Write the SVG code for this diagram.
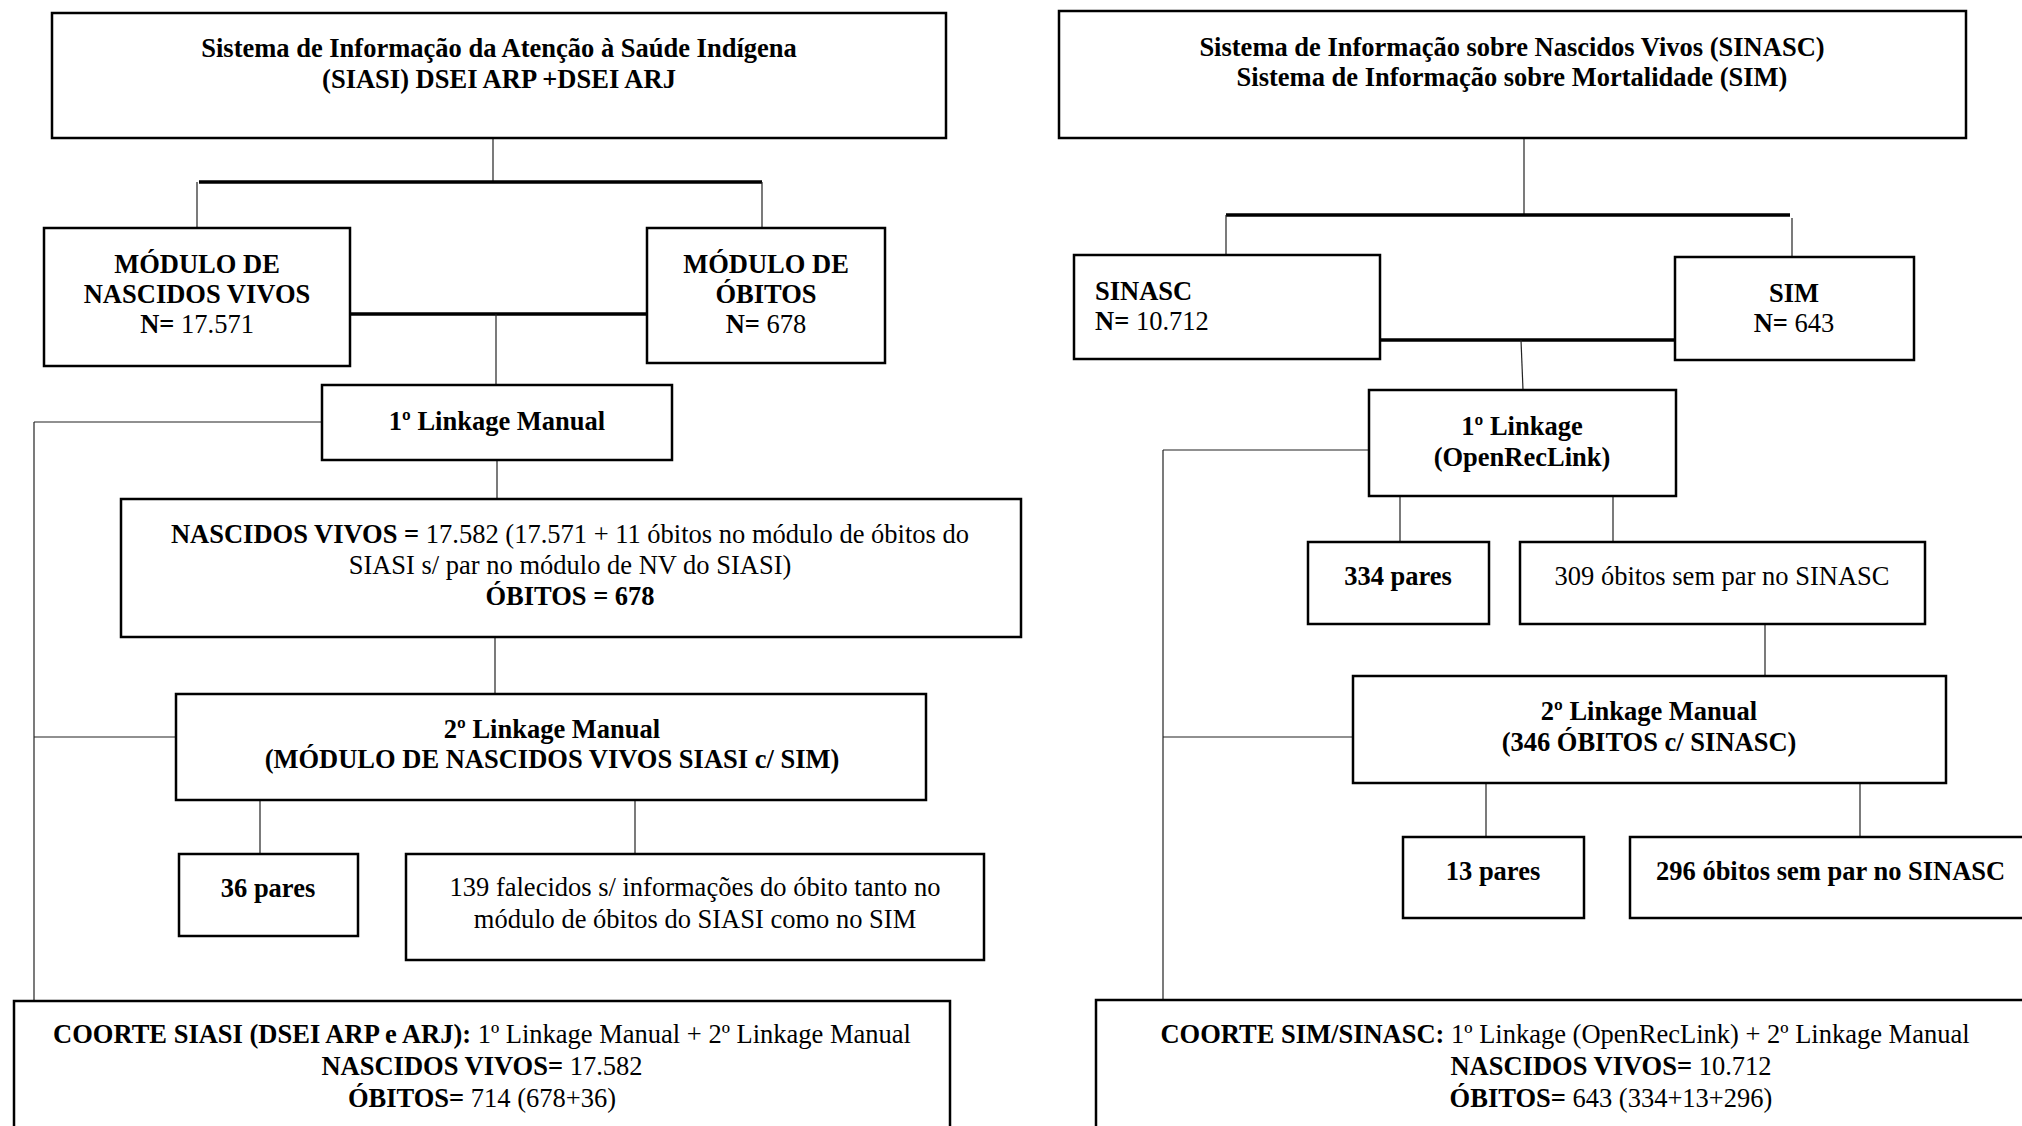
<svg xmlns="http://www.w3.org/2000/svg" width="2022" height="1126" viewBox="0 0 2022 1126">
<style>
.box{fill:#fff;stroke:#000;stroke-width:2.5}
.ln{stroke:#222;stroke-width:1.2;fill:none}
.thk{stroke:#000;stroke-width:3.5;fill:none}
text{font-family:"Liberation Serif","Times New Roman",serif;font-size:26.5px;fill:#000}
.c{text-anchor:middle}
.b{font-weight:bold}
</style>
<rect width="2022" height="1126" fill="#fff"/>
<g id="connectors">
<line class="ln" x1="493" y1="138" x2="493" y2="182"/>
<line class="thk" x1="199" y1="182" x2="762" y2="182"/>
<line class="ln" x1="197" y1="182" x2="197" y2="228"/>
<line class="ln" x1="762" y1="182" x2="762" y2="228"/>
<line class="thk" x1="350" y1="314" x2="647" y2="314"/>
<line class="ln" x1="496" y1="314" x2="496" y2="385"/>
<line class="ln" x1="34" y1="422" x2="322" y2="422"/>
<line class="ln" x1="34" y1="422" x2="34" y2="1001"/>
<line class="ln" x1="497" y1="460" x2="497" y2="499"/>
<line class="ln" x1="495" y1="637" x2="495" y2="694"/>
<line class="ln" x1="34" y1="737" x2="176" y2="737"/>
<line class="ln" x1="260" y1="800" x2="260" y2="854"/>
<line class="ln" x1="635" y1="800" x2="635" y2="854"/>
<line class="ln" x1="1524" y1="138" x2="1524" y2="215"/>
<line class="thk" x1="1226" y1="215" x2="1790" y2="215"/>
<line class="ln" x1="1226" y1="215" x2="1226" y2="255"/>
<line class="ln" x1="1792" y1="218" x2="1792" y2="257"/>
<line class="thk" x1="1380" y1="340" x2="1675" y2="340"/>
<line class="ln" x1="1521" y1="340" x2="1523" y2="390"/>
<line class="ln" x1="1163" y1="450" x2="1369" y2="450"/>
<line class="ln" x1="1163" y1="450" x2="1163" y2="1000"/>
<line class="ln" x1="1400" y1="496" x2="1400" y2="542"/>
<line class="ln" x1="1613" y1="496" x2="1613" y2="542"/>
<line class="ln" x1="1765" y1="624" x2="1765" y2="676"/>
<line class="ln" x1="1163" y1="737" x2="1353" y2="737"/>
<line class="ln" x1="1486" y1="783" x2="1486" y2="837"/>
<line class="ln" x1="1860" y1="783" x2="1860" y2="837"/>
</g>
<g id="siasi">
<rect class="box" x="52" y="13" width="894" height="125"/>
<text class="c b" x="499" y="57">Sistema de Informação da Atenção à Saúde Indígena</text>
<text class="c b" x="499" y="88">(SIASI) DSEI ARP +DSEI ARJ</text>
</g>
<g id="modulo-nv">
<rect class="box" x="44" y="228" width="306" height="138"/>
<text class="c b" x="197" y="273">MÓDULO DE</text>
<text class="c b" x="197" y="303">NASCIDOS VIVOS</text>
<text class="c" x="197" y="333"><tspan class="b">N=</tspan> 17.571</text>
</g>
<g id="modulo-obitos">
<rect class="box" x="647" y="228" width="238" height="135"/>
<text class="c b" x="766" y="273">MÓDULO DE</text>
<text class="c b" x="766" y="303">ÓBITOS</text>
<text class="c" x="766" y="333"><tspan class="b">N=</tspan> 678</text>
</g>
<g id="linkage1-manual">
<rect class="box" x="322" y="385" width="350" height="75"/>
<text class="c b" x="497" y="430">1º Linkage Manual</text>
</g>
<g id="nascidos">
<rect class="box" x="121" y="499" width="900" height="138"/>
<text class="c" x="570" y="543"><tspan class="b">NASCIDOS VIVOS =</tspan> 17.582 (17.571 + 11 óbitos no módulo de óbitos do</text>
<text class="c" x="570" y="574">SIASI s/ par no módulo de NV do SIASI)</text>
<text class="c b" x="570" y="605">ÓBITOS = 678</text>
</g>
<g id="linkage2-siasi">
<rect class="box" x="176" y="694" width="750" height="106"/>
<text class="c b" x="552" y="738">2º Linkage Manual</text>
<text class="c b" x="552" y="768">(MÓDULO DE NASCIDOS VIVOS SIASI c/ SIM)</text>
</g>
<g id="pares36">
<rect class="box" x="179" y="854" width="179" height="82"/>
<text class="c b" x="268" y="897">36 pares</text>
</g>
<g id="falecidos139">
<rect class="box" x="406" y="854" width="578" height="106"/>
<text class="c" x="695" y="896">139 falecidos s/ informações do óbito tanto no</text>
<text class="c" x="695" y="928">módulo de óbitos do SIASI como no SIM</text>
</g>
<g id="coorte-siasi">
<rect class="box" x="14" y="1001" width="936" height="140"/>
<text class="c" x="482" y="1043"><tspan class="b">COORTE SIASI (DSEI ARP e ARJ):</tspan> 1º Linkage Manual + 2º Linkage Manual</text>
<text class="c" x="482" y="1075"><tspan class="b">NASCIDOS VIVOS=</tspan> 17.582</text>
<text class="c" x="482" y="1107"><tspan class="b">ÓBITOS=</tspan> 714 (678+36)</text>
</g>
<g id="sinasc-sim">
<rect class="box" x="1059" y="11" width="907" height="127"/>
<text class="c b" x="1512" y="56">Sistema de Informação sobre Nascidos Vivos (SINASC)</text>
<text class="c b" x="1512" y="86">Sistema de Informação sobre Mortalidade (SIM)</text>
</g>
<g id="sinasc">
<rect class="box" x="1074" y="255" width="306" height="104"/>
<text class="b" x="1095" y="300">SINASC</text>
<text x="1095" y="330"><tspan class="b">N=</tspan> 10.712</text>
</g>
<g id="sim">
<rect class="box" x="1675" y="257" width="239" height="103"/>
<text class="c b" x="1794" y="302">SIM</text>
<text class="c" x="1794" y="332"><tspan class="b">N=</tspan> 643</text>
</g>
<g id="linkage1-openreclink">
<rect class="box" x="1369" y="390" width="307" height="106"/>
<text class="c b" x="1522" y="435">1º Linkage</text>
<text class="c b" x="1522" y="466">(OpenRecLink)</text>
</g>
<g id="pares334">
<rect class="box" x="1308" y="542" width="181" height="82"/>
<text class="c b" x="1398" y="585">334 pares</text>
</g>
<g id="obitos309">
<rect class="box" x="1520" y="542" width="405" height="82"/>
<text class="c" x="1722" y="585">309 óbitos sem par no SINASC</text>
</g>
<g id="linkage2-sinasc">
<rect class="box" x="1353" y="676" width="593" height="107"/>
<text class="c b" x="1649" y="720">2º Linkage Manual</text>
<text class="c b" x="1649" y="751">(346 ÓBITOS c/ SINASC)</text>
</g>
<g id="pares13">
<rect class="box" x="1403" y="837" width="181" height="81"/>
<text class="c b" x="1493" y="880">13 pares</text>
</g>
<g id="obitos296">
<rect class="box" x="1630" y="837" width="420" height="81"/>
<text class="b" x="1656" y="880">296 óbitos sem par no SINASC</text>
</g>
<g id="coorte-sim-sinasc">
<rect class="box" x="1096" y="1000" width="960" height="140"/>
<text class="c" x="1565" y="1043"><tspan class="b">COORTE SIM/SINASC:</tspan> 1º Linkage (OpenRecLink) + 2º Linkage Manual</text>
<text class="c" x="1611" y="1075"><tspan class="b">NASCIDOS VIVOS=</tspan> 10.712</text>
<text class="c" x="1611" y="1107"><tspan class="b">ÓBITOS=</tspan> 643 (334+13+296)</text>
</g>
</svg>
